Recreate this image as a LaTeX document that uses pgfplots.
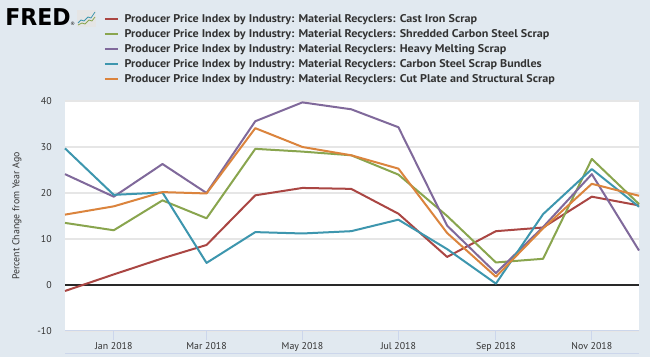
\documentclass[border=0pt]{standalone}
\usepackage{pgfplots}
\pgfplotsset{compat=1.18}
\usepackage{fontspec}
\setmainfont{PT Sans}
\newfontfamily\legfont{PT Sans}[FakeStretch=1.08]
\newfontfamily\logofont{DejaVu Sans}
\newcommand{\legtext}[1]{{\legfont\bfseries\fontsize{8.4}{9}\selectfont #1}}
\definecolor{bgc}{HTML}{E1E9F0}
\definecolor{tickc}{HTML}{CCD6EB}
\definecolor{gridc}{HTML}{E6E6E6}
\definecolor{txtc}{HTML}{333333}
\definecolor{sA}{HTML}{AA4643}
\definecolor{sB}{HTML}{89A54E}
\definecolor{sC}{HTML}{80699B}
\definecolor{sD}{HTML}{3D96AE}
\definecolor{sE}{HTML}{DB843D}
\begin{document}
\begin{tikzpicture}[x=0.75pt,y=0.75pt]
\fill[bgc] (0,0) rectangle (650,357);
\useasboundingbox (0,0) rectangle (650,357);
% logo
\node[anchor=base west, inner sep=0pt, xscale=0.95] at (5,331) {\logofont\bfseries\fontsize{17.4}{18}\selectfont FRED};
\node[anchor=base west, inner sep=0pt] at (70,331) {\logofont\fontsize{3.5}{4}\selectfont\textregistered};
\fill[gray!20] (77,330) rectangle (96,347);
\draw[sD, line width=0.6pt] (78,334) -- (81,337) -- (84,336) -- (88,340) -- (91,339) -- (95,345);
\draw[sB, line width=0.6pt] (78,332) -- (82,334) -- (85,333) -- (89,337) -- (92,336) -- (95,340);
\draw[tickc] (65,4) -- (639,4);
\begin{axis}[
  at={(48.75pt,19.5pt)}, anchor=south west,
  scale only axis, width=430.5pt, height=172.5pt,
  xmin=-31, xmax=334, ymin=-10, ymax=40,
  axis background/.style={fill=white},
  axis x line*=bottom, axis y line*=left,
  x axis line style={draw=tickc, line width=0.75pt, -},
  y axis line style={draw=none},
  xtick={0,59,120,181,243,304},
  xticklabels={Jan 2018,Mar 2018,May 2018,Jul 2018,Sep 2018,Nov 2018},
  xtick align=outside,
  major tick length=6.75pt,
  xtick style={draw=tickc, line width=0.75pt},
  ytick={-10,0,10,20,30,40},
  yticklabels={-10,0,10,20,30,40},
  ytick style={draw=none},
  ymajorgrids, grid style={draw=gridc, line width=1.1pt},
  ticklabel style={font=\fontsize{7.4}{9}\selectfont, text=txtc},
  yticklabel style={inner sep=0pt, xshift=-9.75pt},
  xticklabel style={inner sep=0pt, anchor=base, yshift=-7.5pt},
  ylabel={Percent Change from Year Ago},
  ylabel style={font=\fontsize{7.4}{9}\selectfont, text=txtc, at={(axis description cs:-0.0836,0.5)}, anchor=center},
  clip=false,
  legend style={at={(0.0679,1.3839)}, anchor=north west, draw=none, fill=none,
    inner sep=0pt, outer sep=0pt, row sep=2.25pt, column sep=0pt,
    nodes={inner sep=0pt, anchor=west, text height=7pt, text depth=2pt, text=txtc}},
  legend cell align=left,
  legend image code/.code={\draw[#1, line width=1.5pt] (0pt,0pt) -- (10pt,0pt); \path (14pt,0pt);},
  every axis plot/.append style={line width=1.5pt, mark=none, line join=round},
]
\addplot[forget plot, draw=txtc!80!black, line width=2.2pt] coordinates {(-31,0) (334,0)};
\addplot[sA] coordinates {(-31,-1.3) (0,2.3) (31,5.8) (59,8.7) (90,19.5) (120,21.1) (151,20.9) (181,15.5) (212,6.1) (243,11.7) (273,12.5) (304,19.2) (334,17.3)};
\addlegendentry{\legtext{Producer Price Index by Industry: Material Recyclers: Cast Iron Scrap}}
\addplot[sB] coordinates {(-31,13.5) (0,11.9) (31,18.4) (59,14.5) (90,29.6) (120,29.0) (151,28.2) (181,24.0) (212,15.0) (243,4.9) (273,5.7) (304,27.4) (334,17.6)};
\addlegendentry{\legtext{Producer Price Index by Industry: Material Recyclers: Shredded Carbon Steel Scrap}}
\addplot[sC] coordinates {(-31,24.1) (0,19.2) (31,26.3) (59,20.0) (90,35.6) (120,39.7) (151,38.2) (181,34.3) (212,12.9) (243,2.6) (273,12.6) (304,24.1) (334,7.5)};
\addlegendentry{\legtext{Producer Price Index by Industry: Material Recyclers: Heavy Melting Scrap}}
\addplot[sD] coordinates {(-31,29.7) (0,19.6) (31,20.1) (59,4.8) (90,11.5) (120,11.2) (151,11.7) (181,14.2) (212,7.8) (243,0.3) (273,15.4) (304,25.2) (334,17.0)};
\addlegendentry{\legtext{Producer Price Index by Industry: Material Recyclers: Carbon Steel Scrap Bundles}}
\addplot[sE] coordinates {(-31,15.3) (0,17.1) (31,20.2) (59,19.9) (90,34.1) (120,30.0) (151,28.2) (181,25.3) (212,11.3) (243,1.8) (273,12.3) (304,22.0) (334,19.4)};
\addlegendentry{\legtext{Producer Price Index by Industry: Material Recyclers: Cut Plate and Structural Scrap}}
\end{axis}
\end{tikzpicture}
\end{document}
